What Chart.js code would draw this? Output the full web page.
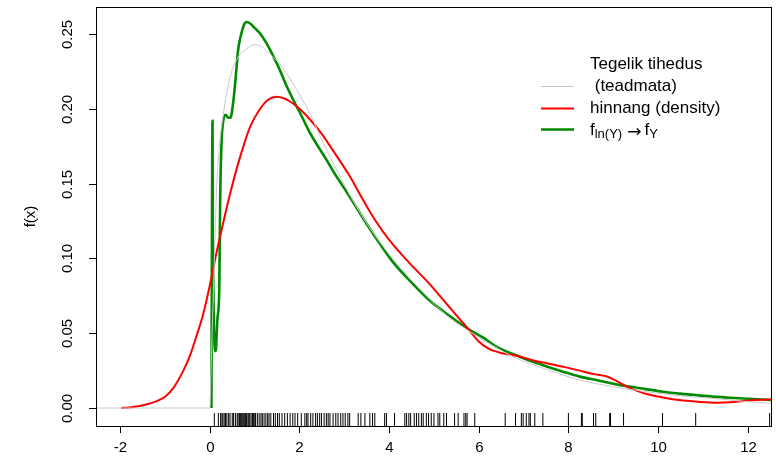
<!DOCTYPE html>
<html>
<head>
<meta charset="utf-8">
<script src="https://cdn.jsdelivr.net/npm/chart.js@4/dist/chart.umd.min.js"></script>
<style>
  body { margin: 0; background: #fff; }
  canvas { display: block; }
</style>
</head>
<body>
<canvas id="density" width="776" height="464"></canvas>
<script>
var xTicks = [-2, 0, 2, 4, 6, 8, 10, 12];
var yTicks = [0, 0.05, 0.10, 0.15, 0.20, 0.25];
var yTickLabels = ["0.00", "0.05", "0.10", "0.15", "0.20", "0.25"];

// true density (grey)
var trueX = [-2.6, 0, 0.03, 0.07, 0.15, 0.22, 0.3, 0.37, 0.48, 0.6, 0.72, 0.82, 1.0, 1.13, 1.26, 1.4, 1.56, 1.75, 1.93, 2.23, 2.53, 2.9, 3.3, 3.79, 4.3, 4.8, 5.28, 5.8, 6.3, 6.76, 7.5, 8.25, 9.0, 9.74, 10.5, 11.22, 11.9, 12.56];
var trueY = [0, 0, 0.03, 0.068, 0.146, 0.177, 0.196, 0.21, 0.224, 0.233, 0.238, 0.240, 0.243, 0.242, 0.239, 0.235, 0.230, 0.222, 0.213, 0.197, 0.177, 0.155, 0.133, 0.111, 0.092, 0.076, 0.062, 0.051, 0.042, 0.0343, 0.026, 0.0187, 0.0143, 0.0109, 0.0082, 0.0065, 0.0045, 0.0031];

// kernel estimate (red)
var kdeX = [-1.98, -1.8, -1.6, -1.4, -1.2, -1.0, -0.8, -0.6, -0.45, -0.3, -0.15, 0.0, 0.15, 0.3, 0.45, 0.6, 0.75, 0.9, 1.1, 1.3, 1.49, 1.65, 1.78, 2.0, 2.23, 2.5, 2.75, 3.1, 3.42, 3.7, 4.01, 4.45, 4.9, 5.3, 5.76, 6.0, 6.2, 6.47, 6.91, 7.2, 7.51, 7.9, 8.25, 8.6, 8.84, 9.05, 9.29, 9.5, 9.74, 10.1, 10.48, 10.9, 11.3, 11.6, 11.97, 12.3, 12.56];
var kdeY = [0.0, 0.0004, 0.0012, 0.0025, 0.0045, 0.0075, 0.014, 0.0245, 0.0345, 0.048, 0.0625, 0.082, 0.104, 0.124, 0.143, 0.160, 0.175, 0.188, 0.199, 0.206, 0.208, 0.207, 0.205, 0.2, 0.193, 0.183, 0.172, 0.156, 0.139, 0.125, 0.112, 0.097, 0.083, 0.069, 0.053, 0.0445, 0.040, 0.037, 0.0345, 0.032, 0.030, 0.0275, 0.025, 0.0225, 0.0212, 0.0185, 0.0145, 0.0118, 0.0094, 0.0072, 0.0053, 0.0042, 0.0036, 0.0038, 0.0049, 0.0055, 0.0058];

// back-transformed log density (green)
var backX = [0.035, 0.06, 0.065, 0.13, 0.17, 0.21, 0.23, 0.26, 0.30, 0.35, 0.41, 0.46, 0.52, 0.58, 0.63, 0.70, 0.76, 0.82, 0.90, 1.0, 1.13, 1.26, 1.4, 1.56, 1.7, 1.86, 2.05, 2.23, 2.4, 2.6, 2.8, 3.05, 3.27, 3.5, 3.79, 4.1, 4.53, 4.9, 5.28, 5.76, 6.1, 6.39, 6.91, 7.4, 7.88, 8.25, 8.62, 9.29, 9.7, 10.11, 10.6, 11.22, 11.9, 12.56];
var backY = [0, 0.192, 0.12, 0.038, 0.06, 0.079, 0.139, 0.177, 0.192, 0.196, 0.194, 0.194, 0.204, 0.222, 0.239, 0.25, 0.256, 0.258, 0.257, 0.254, 0.25, 0.244, 0.236, 0.226, 0.216, 0.206, 0.195, 0.184, 0.1755, 0.166, 0.156, 0.1445, 0.134, 0.123, 0.110, 0.097, 0.083, 0.072, 0.063, 0.053, 0.047, 0.041, 0.0343, 0.029, 0.0243, 0.021, 0.0187, 0.0147, 0.0128, 0.0109, 0.0093, 0.0076, 0.0064, 0.0053];

// observations for the rug
var rugX = [0.10, 0.19, 0.24, 0.27, 0.29, 0.32, 0.35, 0.38, 0.42, 0.45, 0.50, 0.53, 0.57, 0.61, 0.63, 0.66, 0.68, 0.70, 0.72, 0.74, 0.76, 0.78, 0.80, 0.82, 0.85, 0.87, 0.89, 0.92, 0.95, 0.97, 0.99, 1.02, 1.06, 1.10, 1.14, 1.17, 1.21, 1.25, 1.29, 1.32, 1.36, 1.42, 1.46, 1.51, 1.55, 1.61, 1.67, 1.73, 1.79, 1.85, 1.90, 1.96, 2.04, 2.12, 2.16, 2.19, 2.25, 2.30, 2.36, 2.40, 2.45, 2.49, 2.55, 2.60, 2.64, 2.68, 2.75, 2.81, 2.86, 2.92, 2.97, 3.02, 3.08, 3.12, 3.31, 3.37, 3.46, 3.57, 3.63, 3.68, 3.90, 3.94, 4.12, 4.35, 4.39, 4.44, 4.48, 4.56, 4.61, 4.66, 4.72, 4.76, 4.83, 4.88, 4.94, 5.00, 5.09, 5.13, 5.22, 5.28, 5.46, 5.54, 5.67, 5.71, 5.74, 5.91, 6.59, 6.82, 6.95, 6.99, 7.06, 7.12, 7.15, 7.25, 7.43, 8.00, 8.29, 8.31, 8.56, 8.61, 8.92, 8.94, 9.23, 10.10, 10.84, 12.49];

var FONT = '"Liberation Sans", Arial, sans-serif';

function toPoints(xs, ys) {
  var pts = [];
  for (var i = 0; i < xs.length; i++) {
    pts.push({x: xs[i], y: ys[i]});
  }
  return pts;
}

// R-like box, ticks, labels, rug and legend
var rStyle = {
  id: 'rStyle',
  afterDraw: function (chart) {
    var ctx = chart.ctx;
    var area = chart.chartArea;
    var xs = chart.scales.x;
    var ys = chart.scales.y;
    ctx.save();
    ctx.strokeStyle = '#000';
    ctx.fillStyle = '#000';
    ctx.lineWidth = 1;

    // rug
    rugX.forEach(function (v) {
      var px = xs.getPixelForValue(v);
      if (px < area.left || px > area.right) return;
      ctx.beginPath();
      ctx.moveTo(px, area.bottom);
      ctx.lineTo(px, area.bottom - 13);
      ctx.stroke();
    });

    // box
    ctx.strokeRect(Math.round(area.left) + 0.5, Math.round(area.top) + 0.5,
      Math.round(area.right - area.left), Math.round(area.bottom - area.top));

    ctx.font = '15px ' + FONT;
    // x axis
    ctx.textAlign = 'center';
    ctx.textBaseline = 'alphabetic';
    xTicks.forEach(function (v) {
      var px = Math.round(xs.getPixelForValue(v)) + 0.5;
      ctx.beginPath();
      ctx.moveTo(px, area.bottom);
      ctx.lineTo(px, area.bottom + 7);
      ctx.stroke();
      ctx.fillText(String(v), px, area.bottom + 26);
    });
    // y axis
    yTicks.forEach(function (v, i) {
      var py = Math.round(ys.getPixelForValue(v)) + 0.5;
      ctx.beginPath();
      ctx.moveTo(area.left, py);
      ctx.lineTo(area.left - 7, py);
      ctx.stroke();
      ctx.save();
      ctx.translate(area.left - 24, py);
      ctx.rotate(-Math.PI / 2);
      ctx.fillText(yTickLabels[i], 0, 0);
      ctx.restore();
    });
    ctx.save();
    ctx.translate(31, (area.top + area.bottom) / 2);
    ctx.rotate(-Math.PI / 2);
    ctx.textBaseline = 'middle';
    ctx.fillText('f(x)', 0, 0);
    ctx.restore();

    // legend
    ctx.textAlign = 'left';
    ctx.textBaseline = 'middle';
    ctx.font = '17px ' + FONT;
    ctx.fillText('Tegelik tihedus', 590, 64);
    ctx.fillText(' (teadmata)', 590, 86.5);
    ctx.fillText('hinnang (density)', 590, 108.5);
    var lines = [[86.5, '#c8c8c8', 1], [108.5, '#ff0000', 2], [129.5, '#008b00', 2.5]];
    lines.forEach(function (l) {
      ctx.strokeStyle = l[1];
      ctx.lineWidth = l[2];
      ctx.beginPath();
      ctx.moveTo(541, l[0]);
      ctx.lineTo(574, l[0]);
      ctx.stroke();
    });
    var tx = 590;
    ctx.fillText('f', tx, 130);
    tx += ctx.measureText('f').width;
    ctx.font = '13px ' + FONT;
    ctx.fillText('ln(Y)', tx, 134);
    tx += ctx.measureText('ln(Y)').width + 5;
    ctx.font = '17px "DejaVu Sans", sans-serif';
    ctx.fillText('\u2192', tx, 133);
    tx += ctx.measureText('\u2192').width + 3;
    ctx.font = '17px ' + FONT;
    ctx.fillText('f', tx, 130);
    tx += ctx.measureText('f').width;
    ctx.font = '13px ' + FONT;
    ctx.fillText('Y', tx, 134);
    ctx.restore();
  }
};

var ctx = document.getElementById('density');
var densityChart = new Chart(ctx, {
  type: 'scatter',
  data: {
    datasets: [{
      label: 'Tegelik tihedus (teadmata)',
      data: toPoints(trueX, trueY),
      borderColor: '#c8c8c8',
      borderWidth: 1,
      showLine: true,
      pointRadius: 0,
      cubicInterpolationMode: 'monotone'
    }, {
      label: 'hinnang (density)',
      data: toPoints(kdeX, kdeY),
      borderColor: '#ff0000',
      borderWidth: 2,
      showLine: true,
      pointRadius: 0,
      cubicInterpolationMode: 'monotone'
    }, {
      label: 'f ln(Y) -> f Y',
      data: toPoints(backX, backY),
      borderColor: '#008b00',
      borderWidth: 2.6,
      showLine: true,
      pointRadius: 0,
      cubicInterpolationMode: 'monotone'
    }]
  },
  options: {
    responsive: false,
    devicePixelRatio: 1,
    animation: false,
    layout: {
      padding: {left: 96, right: 5, top: 7, bottom: 38}
    },
    plugins: {
      legend: {display: false},
      tooltip: {enabled: false}
    },
    scales: {
      x: {type: 'linear', min: -2.54, max: 12.52, display: false},
      y: {type: 'linear', min: -0.012, max: 0.268, display: false}
    }
  },
  plugins: [rStyle]
});
</script>
</body>
</html>
